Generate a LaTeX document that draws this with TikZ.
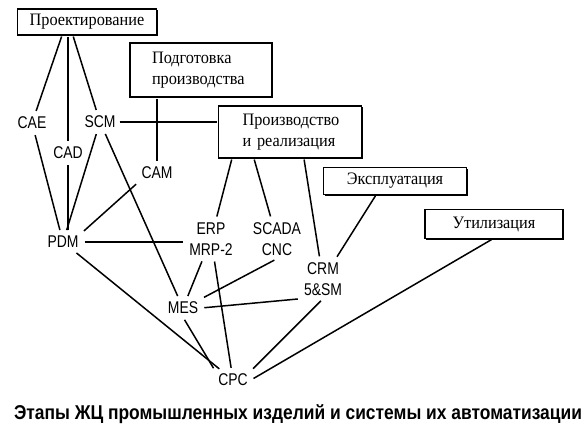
\documentclass[tikz,border=0pt]{standalone}
\usepackage{fontspec}
\setmainfont[FakeStretch=0.93]{Liberation Serif}
\newfontfamily\lblfont[FakeStretch=0.82]{Liberation Sans}
\newfontfamily\capfont[FakeStretch=0.87]{Liberation Sans}
\usetikzlibrary{shadows, calc}

\begin{document}
\begin{tikzpicture}[
      x=1pt, y=-1pt,
      stage/.style={rectangle, draw, line width=1.1pt, fill=white, align=left, inner sep=0pt,
        font=\fontsize{17.5}{21}\selectfont,
        drop shadow={shadow xshift=1.3pt, shadow yshift=-1.3pt, fill=black, opacity=1}},
      sys/.style={inner sep=3pt, align=center, font=\lblfont\fontsize{17}{21}\selectfont},
      link/.style={line width=1.5pt, shorten <=1pt, shorten >=3pt}
    ]
    \useasboundingbox (0,0) rectangle (584,436);

    % life cycle stages
    \node[stage, minimum width=139pt, minimum height=26pt] (design) at (87,22) {Проектирование};
    \node[stage, minimum width=142pt, minimum height=54pt, text width=98pt] (prep) at (201,70) {Подготовка\\производства};
    \node[stage, minimum width=143pt, minimum height=52pt, text width=95pt] (prod) at (290,132) {Производство\\и реализация};
    \node[stage, minimum width=143pt, minimum height=27pt] (oper) at (395,181) {Эксплуатация};
    \node[stage, minimum width=138pt, minimum height=29pt] (util) at (494,224) {Утилизация};

    % automation systems
    \node[sys] (cae) at (32,123) {CAE};
    \node[sys] (scm) at (100,122) {SCM};
    \node[sys] (cad) at (68,153) {CAD};
    \node[sys] (cam) at (157,173) {CAM};
    \node[sys] (pdm) at (63,242) {PDM};
    \node[sys] (erp) at (211,239) {ERP\\MRP-2};
    \node[sys] (scada) at (277,239) {SCADA\\CNC};
    \node[sys] (crm) at (323,279) {CRM\\5\&SM};
    \node[sys] (mes) at (183,308) {MES};
    \node[sys] (cpc) at (233,380) {CPC};

    \draw[link] ([xshift=45pt]design.south west) -- (cae);
    \draw[link] (design.south -| cad) -- (cad);
    \draw[link] ([xshift=56pt]design.south west) -- (scm);
    \draw[link, shorten <=3pt] (cae) -- (pdm);
    \draw[link, shorten <=3pt] (cad) -- (cad |- pdm.north);
    \draw[link, shorten <=3pt] (scm) -- (pdm);
    \draw[link, shorten <=3pt] (scm) -- (mes);
    \draw[link, line width=1.2pt, shorten >=1pt] (scm.east) -- (scm.east -| prod.west);
    \draw[link, line width=1.2pt] (prep.south -| cam) -- (cam);
    \draw[link, shorten <=3pt] (cam.south west) -- (pdm.north east);
    \draw[link, shorten <=3pt] (pdm) -- (pdm -| erp.west);
    \draw[link, shorten <=3pt] (pdm) -- (cpc);
    \draw[link] ([xshift=14pt]prod.south west) -- (erp);
    \draw[link] ([xshift=36pt]prod.south west) -- (scada);
    \draw[link] ([xshift=86pt]prod.south west) -- (crm);
    \draw[link] ([xshift=53pt]oper.south west) -- (crm);
    \draw[link] ([xshift=68pt]util.south west) -- (cpc.east);
    \draw[link, shorten <=3pt] (erp) -- (mes);
    \draw[link, shorten <=3pt] (erp) -- (cpc);
    \draw[link, shorten <=3pt] (scada.south) -- (mes.north east);
    \draw[link, shorten <=3pt] (crm.south west) -- (mes.east);
    \draw[link, shorten <=3pt] (crm.south) -- (cpc.north east);
    \draw[link, shorten <=3pt] (mes.south) -- (cpc.north west);

    \node[font=\capfont\bfseries\fontsize{20}{24}\selectfont] (caption) at (298,414)
      {Этапы ЖЦ промышленных изделий и системы их автоматизации};
  \end{tikzpicture}
\end{document}
